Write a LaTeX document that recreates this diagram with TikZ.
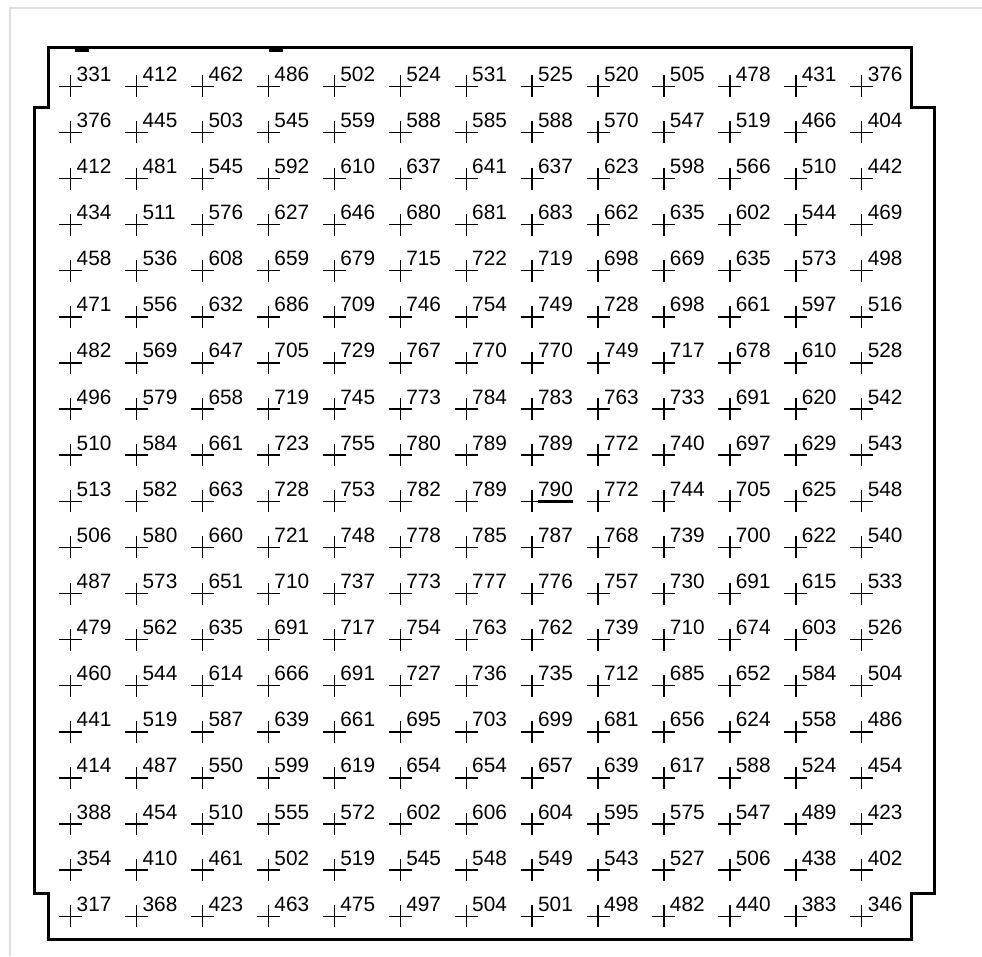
\documentclass[tikz,border=0pt]{standalone}
\usepackage{fontspec}
\setmainfont{Liberation Sans}
\usetikzlibrary{calc}

\tikzset{croix/.style={line width=1.4pt, black},
         valeur/.style={anchor=base west, inner sep=0pt, outer sep=0pt, font=\fontsize{20.8}{24}\selectfont},
         contour/.style={line width=3pt, black, line join=miter},
         repere/.style={fill=black},
         cadre/.style={line width=1.5pt, black!13}}

\begin{document}
\begin{tikzpicture}[x=1pt, y=-1pt]
            % Le fond et le cadre
            \useasboundingbox[fill=white] (0,0) rectangle (982,956);
            \draw[cadre] (10,956) -- (10,8) -- (982,8);

            % Le contour avec ses encoches
            \draw[contour] (48,47) -- (911,47) -- (911,107) -- (934,107) -- (934,893)
                -- (911,893) -- (911,939) -- (48,939) -- (48,893) -- (34,893)
                -- (34,107) -- (48,107) -- cycle;
            \fill[repere] (75,47) rectangle (89,52);
            \fill[repere] (269,47) rectangle (283,52);

            % Les points et leurs valeurs
            \foreach \ligne [count=\r] in {
                {331,412,462,486,502,524,531,525,520,505,478,431,376},
                {376,445,503,545,559,588,585,588,570,547,519,466,404},
                {412,481,545,592,610,637,641,637,623,598,566,510,442},
                {434,511,576,627,646,680,681,683,662,635,602,544,469},
                {458,536,608,659,679,715,722,719,698,669,635,573,498},
                {471,556,632,686,709,746,754,749,728,698,661,597,516},
                {482,569,647,705,729,767,770,770,749,717,678,610,528},
                {496,579,658,719,745,773,784,783,763,733,691,620,542},
                {510,584,661,723,755,780,789,789,772,740,697,629,543},
                {513,582,663,728,753,782,789,790,772,744,705,625,548},
                {506,580,660,721,748,778,785,787,768,739,700,622,540},
                {487,573,651,710,737,773,777,776,757,730,691,615,533},
                {479,562,635,691,717,754,763,762,739,710,674,603,526},
                {460,544,614,666,691,727,736,735,712,685,652,584,504},
                {441,519,587,639,661,695,703,699,681,656,624,558,486},
                {414,487,550,599,619,654,654,657,639,617,588,524,454},
                {388,454,510,555,572,602,606,604,595,575,547,489,423},
                {354,410,461,502,519,545,548,549,543,527,506,438,402},
                {317,368,423,463,475,497,504,501,498,482,440,383,346}} {
              \foreach \val [count=\c] in \ligne {
                \coordinate (p-\r-\c) at ({70.7+65.92*(\c-1)}, {86.3+46.11*(\r-1)});
                \draw[croix] (p-\r-\c) ++(-11.5,0) -- ++(23,0)
                             (p-\r-\c) ++(0,-11) -- ++(0,22);
                \node[valeur] (v-\r-\c) at ($(p-\r-\c)+(6,-5)$) {\val};
              }
            }

            % Le maximum souligné
            \draw[line width=3pt] ($(v-10-8.base west)+(0,5)$) -- ($(v-10-8.base east)+(0,5)$);
        \end{tikzpicture}
\end{document}
